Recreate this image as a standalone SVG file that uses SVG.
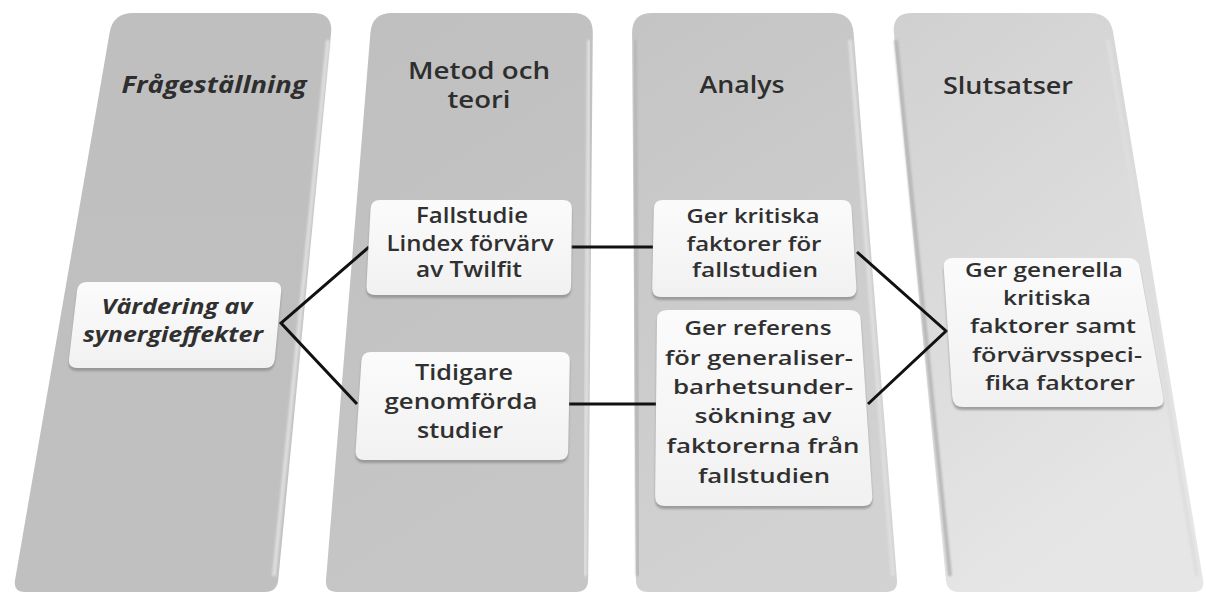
<svg xmlns="http://www.w3.org/2000/svg" width="1206" height="594" viewBox="0 0 1206 594">
  <defs>
    <linearGradient id="gCol1" x1="0" y1="0" x2="0" y2="1">
      <stop offset="0" stop-color="#bfbfbf"/>
      <stop offset="1" stop-color="#c0c0c0"/>
    </linearGradient>
    <linearGradient id="gCol2" x1="0" y1="0" x2="0.3" y2="1">
      <stop offset="0" stop-color="#bfbfbf"/>
      <stop offset="1" stop-color="#c6c6c6"/>
    </linearGradient>
    <linearGradient id="gCol3" x1="0" y1="0" x2="0.3" y2="1">
      <stop offset="0" stop-color="#c4c4c4"/>
      <stop offset="1" stop-color="#d2d2d2"/>
    </linearGradient>
    <linearGradient id="gCol4" x1="0" y1="0" x2="0.4" y2="1">
      <stop offset="0" stop-color="#d0d0d0"/>
      <stop offset="1" stop-color="#e6e6e6"/>
    </linearGradient>
    <linearGradient id="gBox" x1="0" y1="0" x2="0" y2="1">
      <stop offset="0" stop-color="#fbfbfb"/>
      <stop offset="1" stop-color="#f1f1f1"/>
    </linearGradient>
    <filter id="soft" x="-5%" y="-5%" width="110%" height="115%">
      <feGaussianBlur stdDeviation="1"/>
    </filter>
    <filter id="edgeBlur" x="-20%" y="-5%" width="140%" height="110%">
      <feGaussianBlur stdDeviation="1.2"/>
    </filter>
  </defs>
  <style>
    .edge { fill: none; stroke: #dedede; stroke-width: 4; filter: url(#edgeBlur); }
    .rim { fill: none; stroke: #b8b8b8; stroke-width: 4; filter: url(#edgeBlur); }
    .box { fill: url(#gBox); }
    .shade { fill: #8a8a8a; opacity: 0.75; filter: url(#soft); }
    .hdr { font-family: "Open Sans", "Liberation Sans", Arial, sans-serif; font-size: 23px; font-weight: 600; fill: #2e2e2e; text-anchor: middle; }
    .txt { font-family: "Open Sans", "Liberation Sans", Arial, sans-serif; font-weight: 600; fill: #303030; text-anchor: middle; }
    .it { font-style: italic; font-weight: bold; }
    .conn { fill: none; stroke: #111; stroke-width: 3; stroke-linejoin: miter; }
  </style>

  <rect width="1206" height="594" fill="#ffffff"/>

  <!-- column 1: Frågeställning -->
  <g id="col-fragestallning">
    <path d="M133,13 L313,13 Q333,13 331.1,32.9 L278.2,580.1 Q277,592 265,592 L25,592 Q13,592 15,580.2 L109.6,32.7 Q113,13 133,13 Z" fill="url(#gCol1)"/>
    <path class="edge" d="M328,40 L274,576"/>
    <text class="hdr it" x="214" y="93" textLength="185" lengthAdjust="spacingAndGlyphs">Frågeställning</text>
  </g>

  <!-- column 2: Metod och teori -->
  <g id="col-metod">
    <path d="M392,13 L573,13 Q593,13 592.8,33 L588.1,580 Q588,592 576,592 L337,592 Q325,592 326,580 L370.4,32.9 Q372,13 392,13 Z" fill="url(#gCol2)"/>
    <path class="edge" d="M589,40 L585,576"/>
    <text class="hdr" x="479" y="79" textLength="142" lengthAdjust="spacingAndGlyphs">Metod och</text>
    <text class="hdr" x="479" y="108" textLength="63" lengthAdjust="spacingAndGlyphs">teori</text>
  </g>

  <!-- column 3: Analys -->
  <g id="col-analys">
    <path d="M652,13 L832,13 Q852,13 853.6,32.9 L897,580 Q898,592 886,592 L648,592 Q636,592 635.9,580 L632.1,33 Q632,13 652,13 Z" fill="url(#gCol3)"/>
    <path class="rim" d="M635,40 L638,576"/>
    <path class="edge" d="M850,40 L893,576"/>
    <text class="hdr" x="742" y="93" textLength="85" lengthAdjust="spacingAndGlyphs">Analys</text>
  </g>

  <!-- column 4: Slutsatser -->
  <g id="col-slutsatser">
    <path d="M912,13 L1090,13 Q1110,13 1113.2,32.7 L1203.1,580.2 Q1205,592 1193,592 L959,592 Q947,592 945.9,580.1 L893.9,32.9 Q892,13 912,13 Z" fill="url(#gCol4)"/>
    <path class="rim" d="M896,40 L950,576"/>
    <path class="edge" d="M1108,40 L1197,576"/>
    <text class="hdr" x="1008" y="94" textLength="130" lengthAdjust="spacingAndGlyphs">Slutsatser</text>
  </g>

  <!-- connectors -->
  <g id="connectors">
    <polyline class="conn" points="369,247 281,323 357,404"/>
    <line class="conn" x1="571" y1="247" x2="653" y2="247"/>
    <line class="conn" x1="568" y1="404" x2="656" y2="404"/>
    <polyline class="conn" points="857,252 946,331 868,404"/>
  </g>

  <!-- boxes -->
  <g id="n-vardering">
    <path class="shade" d="M87,285 L273,285 Q282,285 281.2,294 L274.8,362 Q274,371 265,371 L77,371 Q68,371 69,362 L77,294 Q78,285 87,285 Z"/>
    <path class="box" d="M87,282 L273,282 Q282,282 281.2,291 L274.8,359 Q274,368 265,368 L77,368 Q68,368 69,359.1 L77,290.9 Q78,282 87,282 Z"/>
    <g class="txt it" font-size="22">
      <text x="177" y="314" textLength="151" lengthAdjust="spacingAndGlyphs">Värdering av</text>
      <text x="173" y="342" textLength="180" lengthAdjust="spacingAndGlyphs">synergieffekter</text>
    </g>
  </g>

  <g id="n-fallstudie">
    <path class="shade" d="M380,203 L563,203 Q572,203 571.9,212 L571.1,289 Q571,298 562,298 L375,298 Q366,298 366.5,289 L370.5,212 Q371,203 380,203 Z"/>
    <path class="box" d="M380,200 L563,200 Q572,200 571.9,209 L571.1,286 Q571,295 562,295 L375,295 Q366,295 366.5,286 L370.5,209 Q371,200 380,200 Z"/>
    <g class="txt" font-size="21">
      <text x="472" y="223" textLength="112" lengthAdjust="spacingAndGlyphs">Fallstudie</text>
      <text x="470" y="251" textLength="167" lengthAdjust="spacingAndGlyphs">Lindex förvärv</text>
      <text x="469" y="277" textLength="106" lengthAdjust="spacingAndGlyphs">av Twilfit</text>
    </g>
  </g>

  <g id="n-tidigare">
    <path class="shade" d="M371,355 L561,355 Q570,355 569.8,364 L568.2,454 Q568,463 559,463 L364,463 Q355,463 355.6,454 L361.4,364 Q362,355 371,355 Z"/>
    <path class="box" d="M371,352 L561,352 Q570,352 569.8,361 L568.2,451 Q568,460 559,460 L364,460 Q355,460 355.6,451 L361.4,361 Q362,352 371,352 Z"/>
    <g class="txt" font-size="22">
      <text x="464" y="380" textLength="98" lengthAdjust="spacingAndGlyphs">Tidigare</text>
      <text x="461" y="409" textLength="153" lengthAdjust="spacingAndGlyphs">genomförda</text>
      <text x="460" y="438" textLength="86" lengthAdjust="spacingAndGlyphs">studier</text>
    </g>
  </g>

  <g id="n-kritiska">
    <path class="shade" d="M663,203 L842,203 Q851,203 851.6,212 L856.4,291 Q857,300 848,300 L661,300 Q652,300 652.2,291 L653.8,212 Q654,203 663,203 Z"/>
    <path class="box" d="M663,200 L842,200 Q851,200 851.6,209 L856.4,288 Q857,297 848,297 L661,297 Q652,297 652.2,288 L653.8,209 Q654,200 663,200 Z"/>
    <g class="txt" font-size="19">
      <text x="753" y="223" textLength="133" lengthAdjust="spacingAndGlyphs">Ger kritiska</text>
      <text x="754" y="251" textLength="135" lengthAdjust="spacingAndGlyphs">faktorer för</text>
      <text x="755" y="277" textLength="126" lengthAdjust="spacingAndGlyphs">fallstudien</text>
    </g>
  </g>

  <g id="n-referens">
    <path class="shade" d="M667,313 L850,313 Q860,313 860.7,323 L872.3,499 Q873,509 863,509 L665,509 Q655,509 655.1,499 L656.9,323 Q657,313 667,313 Z"/>
    <path class="box" d="M667,310 L850,310 Q860,310 860.7,320 L872.3,496 Q873,506 863,506 L665,506 Q655,506 655.1,496 L656.9,320 Q657,310 667,310 Z"/>
    <g class="txt" font-size="19">
      <text x="758" y="335" textLength="147" lengthAdjust="spacingAndGlyphs">Ger referens</text>
      <text x="759" y="365" textLength="188" lengthAdjust="spacingAndGlyphs">för generaliser-</text>
      <text x="763" y="394" textLength="180" lengthAdjust="spacingAndGlyphs">barhetsunder-</text>
      <text x="763" y="423" textLength="137" lengthAdjust="spacingAndGlyphs">sökning av</text>
      <text x="763" y="453" textLength="193" lengthAdjust="spacingAndGlyphs">faktorerna från</text>
      <text x="764" y="483" textLength="132" lengthAdjust="spacingAndGlyphs">fallstudien</text>
    </g>
  </g>

  <g id="n-generella">
    <path class="shade" d="M953,261 L1128,261 Q1138,261 1139.8,270.8 L1163.2,400.2 Q1165,410 1155,410 L963,410 Q953,410 952.3,400 L943.7,271 Q943,261 953,261 Z"/>
    <path class="box" d="M953,258 L1128,258 Q1138,258 1139.8,267.8 L1163.2,397.2 Q1165,407 1155,407 L963,407 Q953,407 952.3,397 L943.7,268 Q943,258 953,258 Z"/>
    <g class="txt" font-size="19">
      <text x="1044" y="277" textLength="158" lengthAdjust="spacingAndGlyphs">Ger generella</text>
      <text x="1047" y="305" textLength="88" lengthAdjust="spacingAndGlyphs">kritiska</text>
      <text x="1053" y="333" textLength="166" lengthAdjust="spacingAndGlyphs">faktorer samt</text>
      <text x="1057" y="362" textLength="170" lengthAdjust="spacingAndGlyphs">förvärvsspeci-</text>
      <text x="1060" y="390" textLength="150" lengthAdjust="spacingAndGlyphs">fika faktorer</text>
    </g>
  </g>
</svg>
